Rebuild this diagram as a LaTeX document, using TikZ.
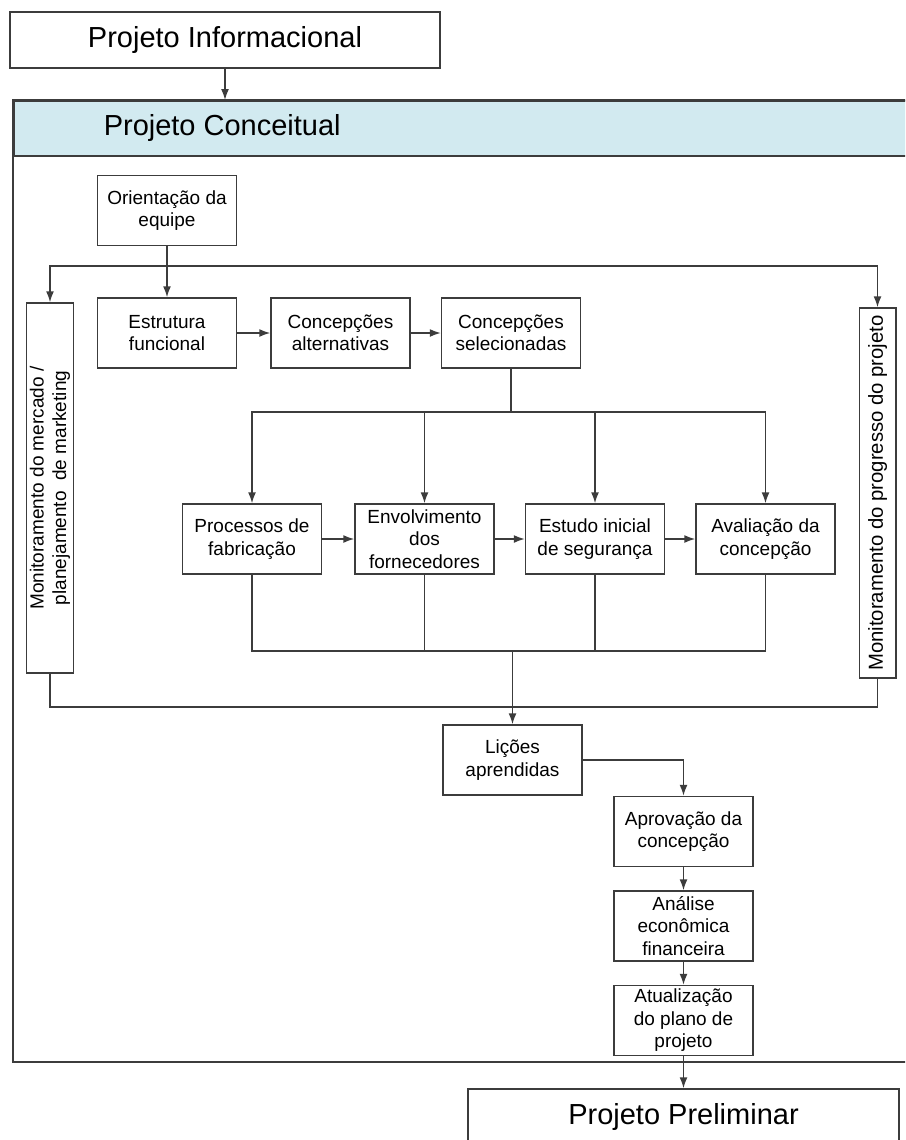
\documentclass[tikz,border=0pt]{standalone}
\usepackage{fontspec}
\setmainfont{Liberation Sans}
\usetikzlibrary{positioning, arrows.meta}
\definecolor{headblue}{RGB}{210,234,240}
\definecolor{linegray}{RGB}{60,60,60}
\newcommand{\boxfont}{\fontsize{19}{22.5}\selectfont}
\newcommand{\titlefont}{\fontsize{29}{34}\selectfont}

\begin{document}
\begin{tikzpicture}[x=1pt, y=-1pt, line width=1.5pt, draw=linegray,
    >={Latex[length=11pt,width=8pt]},
    stepbox/.style={draw=linegray,fill=white,align=center,inner sep=1pt,
        minimum width=139pt,minimum height=70pt,font=\boxfont},
    monbox/.style={draw=linegray,fill=white,align=center,inner sep=1pt,
        rotate=90,minimum width=370pt},
    phasebox/.style={draw=linegray,fill=white,inner sep=0pt,font=\titlefont}]
        \useasboundingbox (0,0) rectangle (905,1140);
        \clip (0,0) rectangle (905,1140);

        % fase conceitual
        \draw[fill=white] (13,100) rectangle (915,1062);
        \node[draw=linegray, fill=headblue, minimum width=902pt, minimum height=55pt,
              anchor=north west, inner sep=0pt] (conceitual) at (13,100) {};
        \node[anchor=west, font=\titlefont, inner sep=3pt] (conc_title) at (100,128) {Projeto Conceitual};

        \node[phasebox, minimum width=430pt, minimum height=56pt] (info) at (225,40) {Projeto Informacional};
        \node[phasebox, minimum width=431pt, minimum height=56pt] (prelim) at (683.5,1117) {Projeto Preliminar};

        \node[stepbox] (orient) at (167,210.5) {Orientação da\\equipe};
        \node[stepbox] (estrut) at (167,333) {Estrutura\\funcional};
        \node[right=33pt of estrut, stepbox] (altern) {Concepções\\alternativas};
        \node[right=30pt of altern, stepbox] (selec) {Concepções\\selecionadas};

        \node[stepbox] (proc) at (252,539) {Processos de\\fabricação};
        \node[right=32pt of proc, stepbox] (envol) {Envolvimento\\dos\\fornecedores};
        \node[right=30pt of envol, stepbox] (estudo) {Estudo inicial\\de segurança};
        \node[right=30pt of estudo, stepbox] (aval) {Avaliação da\\concepção};

        \node[stepbox] (licoes) at (512.5,760) {Lições\\aprendidas};
        \node[stepbox] (aprov) at (683.5,831.5) {Aprovação da\\concepção};
        \node[below=23pt of aprov, stepbox] (analise) {Análise\\econômica\\financeira};
        \node[below=23pt of analise, stepbox] (atualiz) {Atualização\\do plano de\\projeto};

        \node[monbox, minimum height=46.6pt, font=\boxfont] (mercado) at (50,488)
            {Monitoramento do mercado /\\planejamento~ de marketing};
        \node[monbox, minimum height=36.5pt, font=\fontsize{20.3}{24}\selectfont] (progresso) at (877.5,493)
            {Monitoramento do progresso do projeto};

        \coordinate (split) at (167,266);
        \coordinate (fork) at (509,412);
        \coordinate (join) at (512.5,651);
        \coordinate (back) at (512.5,707);

        \draw[->] (info.south) -- (info.south |- conceitual.north);
        \draw[->] (orient) -- (estrut);
        \draw[->] (split) -| (mercado.east);
        \draw[->] (split) -| (progresso.east);
        \draw[->] (estrut) -- (altern);
        \draw[->] (altern) -- (selec);

        \draw (selec.south) -- (selec.south |- fork) -- (fork);
        \foreach \b in {proc, envol, estudo, aval}
            \draw[->] (fork) -| (\b.north);
        \draw[->] (proc) -- (envol);
        \draw[->] (envol) -- (estudo);
        \draw[->] (estudo) -- (aval);
        \foreach \b in {proc, envol, estudo, aval}
            \draw (\b.south) |- (join);

        \draw (mercado.west) |- (back) -| (progresso.west);
        \draw[->] (join) -- (licoes.north);
        \draw[->] (licoes.east) -| (aprov.north);
        \draw[->] (aprov) -- (analise);
        \draw[->] (analise) -- (atualiz);
        \draw[->] (atualiz) -- (prelim);
    \end{tikzpicture}
\end{document}
